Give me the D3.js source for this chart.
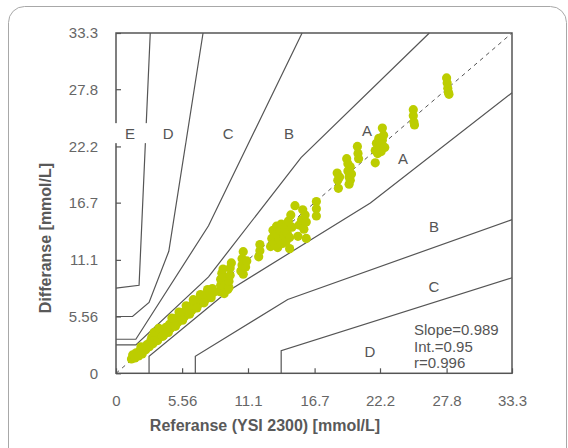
<!DOCTYPE html>
<html>
<head>
<meta charset="utf-8">
<script src="https://cdn.jsdelivr.net/npm/d3@7"></script>
<style>
  body { margin: 0; background: #fff; }
  svg { display: block; font-family: "Liberation Sans", Arial, sans-serif; }
</style>
</head>
<body>
<svg id="svg1" width="568" height="448"></svg>
<script>
// axis ticks (mmol/L)
var tickValues = [0, 5.56, 11.1, 16.7, 22.2, 27.8, 33.3];

// error grid zone boundaries [reference, meter] in mmol/L
var zoneLines = [
    [[0, 8.33], [1.94, 8.61], [2.88, 33.3]],                                   // D upper
    [[0, 5.56], [1.39, 5.56], [2.78, 6.94], [4.44, 11.94], [7.32, 33.3]],     // C upper
    [[0, 3.33], [1.67, 3.33], [7.78, 14.44], [15.65, 33.3]],                  // B upper
    [[0, 2.78], [1.67, 2.78], [7.78, 9.44], [15.56, 21.11], [26.35, 33.3]],   // A upper
    [[2.78, 0], [2.78, 1.67], [9.44, 8.06], [21.39, 16.67], [33.3, 27.45]],   // A lower
    [[6.67, 0], [6.67, 1.67], [14.44, 7.22], [33.3, 15.04]],                  // B lower
    [[13.89, 0], [13.89, 2.22], [33.3, 9.35]]                                 // C lower
];

// zone letters
var zoneNames = ['E', 'D', 'C', 'B', 'A', 'A', 'B', 'C', 'D'];
var zoneNameX = [1.18, 4.38, 9.44, 14.54, 21.1, 24.13, 26.74, 26.74, 21.36];
var zoneNameY = [23.5, 23.5, 23.5, 23.5, 23.8, 20.99, 14.33, 8.45, 2.18];

var statLines = ['Slope=0.989', 'Int.=0.95', 'r=0.996'];

// measurements: reference (YSI 2300) vs meter, mmol/L
var refValues = [
    1.3, 1.4, 1.6, 1.7, 1.9, 2.0, 2.2, 2.3, 2.5, 2.6, 2.8, 2.9, 3.0, 3.1, 3.3, 3.4, 3.5, 3.7, 3.8, 3.9,
    4.1, 4.2, 4.4, 4.5, 4.6, 4.8, 4.9, 5.1, 5.2, 5.4, 5.5, 5.7, 5.8, 6.0, 6.1, 6.3, 6.4, 6.6, 6.7, 6.9,
    7.0, 7.2, 7.3, 7.5, 7.6, 7.8, 7.9, 8.1, 8.2,
    2.1, 3.2, 3.6, 4.0, 4.7, 5.0, 5.3, 5.6, 5.9, 6.2, 6.5, 6.8, 7.1, 7.4, 7.7, 8.0,
    8.7, 8.8, 8.8, 8.9, 9.0, 9.1, 9.1, 9.2, 9.4, 9.5, 9.5, 9.6, 9.6, 9.7,
    10.5, 10.6, 10.6, 10.7, 10.7, 10.9, 11.0,
    12.0, 12.1, 12.1,
    13.0, 13.1, 13.2, 13.3, 13.4, 13.5, 13.6, 13.7, 13.8, 13.9, 14.0, 14.1, 14.2, 14.3, 14.4, 14.5, 14.6, 14.6, 14.7, 14.8,
    15.05, 15.3, 15.4, 15.6, 15.7, 15.8, 15.9, 16.0, 16.0,
    16.85, 16.85, 16.85,
    18.6, 18.65, 18.7, 18.8,
    19.4, 19.5, 19.5, 19.6, 19.6, 19.7, 19.7, 19.8,
    20.3, 20.35, 20.4,
    21.8, 21.8, 21.9, 22.0, 22.1, 22.2, 22.3, 22.4, 22.5, 22.4, 22.6,
    25.0, 25.0, 25.05, 25.1,
    27.8, 27.85, 27.9, 27.95, 28.0
];
var meterValues = [
    1.4, 1.8, 1.5, 2.0, 1.7, 2.2, 1.9, 2.5, 2.3, 2.8, 2.6, 3.1, 3.5, 2.9, 3.4, 3.9, 3.2, 3.8, 4.2, 3.6,
    4.1, 4.5, 4.0, 4.8, 4.4, 5.1, 4.7, 5.4, 5.0, 5.7, 5.3, 6.0, 5.6, 6.3, 5.9, 6.6, 6.2, 6.9, 6.5, 7.2,
    6.8, 7.4, 7.0, 7.7, 7.3, 8.0, 7.6, 8.3, 7.9,
    2.6, 4.0, 4.4, 3.7, 5.4, 4.6, 6.0, 5.2, 6.6, 5.8, 7.2, 6.4, 7.7, 6.9, 8.2, 7.4,
    8.0, 8.6, 9.2, 9.8, 10.2, 7.8, 8.5, 9.3, 8.2, 8.4, 9.0, 9.6, 10.3, 10.8,
    10.0, 10.6, 11.2, 11.9, 9.7, 10.4, 11.0,
    11.4, 12.0, 12.6,
    12.4, 13.2, 14.0, 12.8, 13.6, 14.4, 12.3, 13.1, 14.0, 14.6, 12.7, 13.5, 14.2, 12.9, 13.7, 14.9, 12.2, 13.3, 15.5, 14.3,
    16.4, 13.4, 14.5, 15.0, 16.0, 14.1, 15.5, 13.2, 14.8,
    16.8, 16.1, 15.4,
    19.6, 18.9, 18.1, 19.2,
    21.0, 20.5, 19.8, 19.2, 18.5, 20.2, 18.9, 19.5,
    22.2, 21.5, 21.0,
    20.6, 21.8, 22.5, 21.5, 23.0, 22.2, 21.7, 22.8, 23.3, 24.0, 22.1,
    25.8, 25.2, 24.6, 24.3,
    28.9, 28.4, 27.9, 27.5, 27.3
];

var svg = d3.select('#svg1');

var plotLeft = 116, plotRight = 512, plotTop = 33, plotBottom = 373.3;

var scaleX = d3.scaleLinear().domain([0, 33.3]).range([plotLeft, plotRight]);
var scaleY = d3.scaleLinear().domain([0, 33.3]).range([plotBottom, plotTop]);

// outer rounded frame
svg.append('rect')
    .attr('x', 8.5).attr('y', 6.5)
    .attr('width', 558).attr('height', 470)
    .attr('rx', 16)
    .attr('fill', 'none')
    .attr('stroke', '#a8a8a8')
    .attr('stroke-width', 1);

var line = d3.line()
    .x(function(d){ return scaleX(d[0]); })
    .y(function(d){ return scaleY(d[1]); });

// zone boundaries
svg.append('g')
    .selectAll('path')
    .data(zoneLines)
    .enter()
    .append('path')
    .attr('d', line)
    .attr('fill', 'none')
    .attr('stroke', '#555')
    .attr('stroke-width', 1.2);

// identity line
svg.append('path')
    .attr('d', line([[0, 0], [33.3, 33.3]]))
    .attr('fill', 'none')
    .attr('stroke', '#555')
    .attr('stroke-width', 1)
    .attr('stroke-dasharray', '4,4');

// points
var points = refValues.map(function(d, i){ return [d, meterValues[i]]; });
svg.append('g')
    .selectAll('circle')
    .data(points)
    .enter()
    .append('circle')
    .attr('cx', function(d){ return scaleX(d[0]); })
    .attr('cy', function(d){ return scaleY(d[1]); })
    .attr('r', 4.6)
    .attr('fill', '#bccd00');

// frame + axes
svg.append('rect')
    .attr('x', plotLeft).attr('y', plotTop)
    .attr('width', plotRight - plotLeft).attr('height', plotBottom - plotTop)
    .attr('fill', 'none')
    .attr('stroke', '#555')
    .attr('stroke-width', 1.5);

var xAxis = svg.append('g')
    .attr('transform', 'translate(0,' + plotBottom + ')')
    .call(d3.axisBottom(scaleX).tickValues(tickValues).tickFormat(function(d){ return d; })
        .tickSizeInner(-5).tickSizeOuter(0).tickPadding(22));

var yAxis = svg.append('g')
    .attr('transform', 'translate(' + plotLeft + ',0)')
    .call(d3.axisLeft(scaleY).tickValues(tickValues).tickFormat(function(d){ return d; })
        .tickSizeInner(-5).tickSizeOuter(0).tickPadding(18));

[xAxis, yAxis].forEach(function(a){
    a.select('.domain').remove();
    a.selectAll('line').attr('stroke', '#555').attr('stroke-width', 1.2);
    a.selectAll('text')
        .attr('font-family', '"Liberation Sans", Arial, sans-serif')
        .attr('font-size', 15)
        .attr('fill', '#666');
});

// zone letters with white boxes behind
var labels = svg.append('g');
zoneNames.forEach(function(name, i){
    var cx = scaleX(zoneNameX[i]), cy = scaleY(zoneNameY[i]);
    if (i < 4) {
        labels.append('rect')
            .attr('x', cx - 17).attr('y', cy - 10)
            .attr('width', 34).attr('height', 20)
            .attr('fill', '#fff');
    }
    labels.append('text')
        .attr('x', cx)
        .attr('y', cy + 5.5)
        .attr('text-anchor', 'middle')
        .attr('font-size', 15)
        .attr('fill', '#555')
        .text(name);
});

// regression stats
svg.append('g')
    .selectAll('text')
    .data(statLines)
    .enter()
    .append('text')
    .attr('x', scaleX(25.06))
    .attr('y', function(d, i){ return scaleY([4.25, 2.6, 1.04][i]) + 5.5; })
    .attr('font-size', 15)
    .attr('fill', '#555')
    .text(function(d){ return d; });

// axis titles
svg.append('text')
    .attr('x', 265)
    .attr('y', 431)
    .attr('text-anchor', 'middle')
    .attr('font-size', 16)
    .attr('font-weight', 'bold')
    .attr('fill', '#595959')
    .text('Referanse (YSI 2300) [mmol/L]');

svg.append('text')
    .attr('transform', 'translate(51,238) rotate(-90)')
    .attr('text-anchor', 'middle')
    .attr('font-size', 16)
    .attr('font-weight', 'bold')
    .attr('fill', '#595959')
    .text('Differanse [mmol/L]');
</script>
</body>
</html>
